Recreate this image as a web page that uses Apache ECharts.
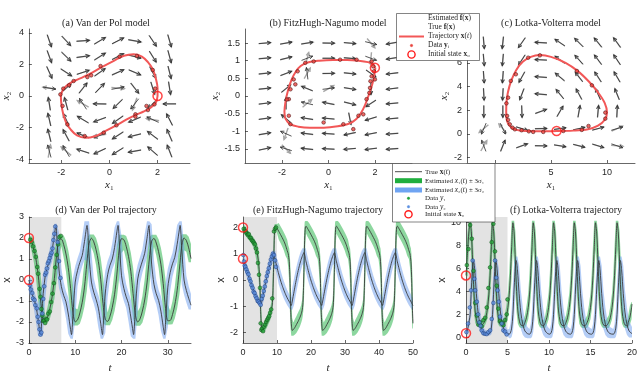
<!DOCTYPE html>
<html>
<head>
<meta charset="utf-8">
<script src="https://cdn.jsdelivr.net/npm/echarts@6/dist/echarts.min.js"></script>
<style>
html, body { margin: 0; padding: 0; background: #fff; }
#chart { width: 640px; height: 375px; }
</style>
</head>
<body>
<div id="chart"></div>
<script>
// ---------- phase portraits: quiver grids (angles in screen degrees) ----------
var vdpCols = [-2.5, -1.8, -1.1, -0.4, 0.35, 1.05, 1.8, 2.5];
var vdpRows = [3.5, 2.5, 1.5, 0.5, -0.5, -1.5, -2.5, -3.5];
var vdpAngles = [
  [-71, -47, 4, 31, 27, -10, -56, -74],
  [-70, -44, 8, 32, 27, -14, -58, -75],
  [-66, -33, 18, 35, 24, -23, -62, -76],
  [-9, 41, 52, 46, 11, -52, -73, -81],
  [99, 105, 123, 179, -136, -128, -136, 180],
  [103, 115, 149, -160, -145, -157, 155, 117],
  [104, 118, 158, -157, -147, -166, 143, 113],
  [105, 120, 162, -155, -148, -170, 139, 111]
];
var vdpEst = [[0, 3, 172], [4, 3, -5], [2, 4, 150], [0, 7, 80], [1, 7, 140], [5, 4, -110], [6, 5, 170], [3, 6, -170]];

var fhnCols = [-2.75, -1.83, -0.92, 0, 0.92, 1.83, 2.75];
var fhnRows = [1.5, 1.07, 0.64, 0.21, -0.21, -0.64, -1.07, -1.5];
var fhnAngles = [
  [5, 10, 9, -1, -5, -14, -170],
  [5, 14, 21, 0, -5, -20, -171],
  [6, 21, 97, 1, -6, -35, -173],
  [6, 39, 158, 7, -9, -90, -173],
  [7, 90, 167, 169, -14, -147, -175],
  [8, 140, 171, 175, -79, -163, -175],
  [10, 156, 173, 176, -168, -169, -176],
  [12, 163, 174, 177, -175, -173, -176]
];
var fhnEst = [[5, 0, -50], [2, 1, 75], [5, 1, -95], [3, 3, 30], [2, 4, 40], [1, 6, -110], [1, 7, -45], [2, 2, 60]];

var lvCols = [-1.0, 0.7, 2.4, 4.1, 5.8, 7.5, 9.2, 10.9];
var lvRows = [7.7, 6.25, 4.8, 3.35, 1.9, 0.45, -1.0];
var lvAngles = [
  [-85, -96, -125, 177, 146, 135, 129, 126],
  [-85, -95, -123, 177, 144, 132, 127, 124],
  [-86, -94, -119, 176, 140, 128, 123, 120],
  [-87, -93, -111, 175, 129, 118, 114, 112],
  [-90, -90, -88, 20, 60, 80, 85, 87],
  [-113, -65, -17, 1, 8, 12, 15, 16],
  [111, 68, 20, -1, -9, -14, -17, -19]
];
var lvEst = [[0, 5, -140], [1, 5, 130], [0, 6, 60], [7, 5, 25], [7, 6, -5]];

// trajectories and observations in the phase plane
var vdpLoop = [[2.0,0],[1.95,-0.35],[1.85,-0.55],[1.65,-0.8],[1.4,-1.0],[1.1,-1.2],[0.7,-1.5],[0.3,-1.85],[-0.2,-2.25],[-0.6,-2.55],[-1.0,-2.65],[-1.35,-2.5],[-1.6,-2.15],[-1.8,-1.7],[-1.93,-1.1],[-2.0,-0.5],[-2.02,0],[-1.95,0.35],[-1.85,0.55],[-1.65,0.8],[-1.4,1.0],[-1.1,1.2],[-0.7,1.5],[-0.3,1.85],[0.2,2.25],[0.6,2.55],[1.0,2.65],[1.35,2.5],[1.6,2.15],[1.8,1.7],[1.93,1.1],[2.0,0.5],[2.0,0]];
var vdpDots = [[1.9,0.47],[1.87,-0.53],[1.54,-0.63],[1.6,-0.89],[1.08,-1.16],[1.08,-1.31],[0.29,-1.86],[-0.24,-2.33],[-1.03,-2.54],[-1.75,-1.8],[-1.95,-0.63],[-2.04,0.1],[-1.92,0.47],[-1.68,0.68],[-1.49,0.95],[-0.92,1.2],[-0.76,1.31],[-0.37,1.9],[0.42,2.5],[1.14,2.54],[1.8,1.65]];
var fhnLoop = [[2.02,0.8],[1.95,0.5],[1.85,0.25],[1.72,0.0],[1.58,-0.25],[1.4,-0.48],[1.2,-0.65],[0.9,-0.78],[0.4,-0.86],[-0.2,-0.9],[-0.8,-0.9],[-1.3,-0.87],[-1.65,-0.8],[-1.85,-0.65],[-1.9,-0.45],[-1.85,-0.15],[-1.75,0.15],[-1.6,0.45],[-1.4,0.7],[-1.2,0.85],[-0.9,0.95],[-0.4,1.0],[0.2,1.02],[0.8,1.02],[1.3,1.0],[1.7,0.96],[1.92,0.9],[2.02,0.8]];
var fhnDots = [[-1.0,0.94],[-0.64,0.98],[0.5,1.03],[1.21,1.03],[1.86,0.98],[1.93,0.84],[1.96,0.7],[1.86,0.56],[1.81,0.42],[2.0,0.47],[1.79,0.23],[1.76,0.09],[1.64,-0.09],[1.5,-0.52],[1.29,-0.56],[1.07,-0.94],[0.64,-0.8],[-0.21,-0.75],[-1.64,-0.8],[-1.71,-0.56],[-1.71,-0.09],[-1.79,-0.1],[-1.64,0.19],[-1.5,0.47],[-1.43,0.33],[-1.33,0.7]];
var lvLoop = [[5.5,0.25],[7.0,0.28],[8.3,0.4],[9.2,0.7],[9.8,1.2],[10.0,1.8],[9.8,2.6],[9.2,3.5],[8.4,4.4],[7.4,5.3],[6.3,6.0],[5.0,6.5],[4.0,6.65],[3.2,6.5],[2.5,6.1],[1.9,5.4],[1.45,4.5],[1.15,3.5],[1.02,2.6],[1.0,1.8],[1.05,1.2],[1.25,0.75],[1.6,0.45],[2.2,0.3],[3.0,0.25],[4.2,0.22],[5.5,0.25]];
var lvDots = [[2.96,6.43],[4.01,6.63],[7.31,5.31],[8.65,4.1],[9.85,1.8],[9.85,1.29],[8.35,0.67],[7.75,0.34],[6.1,0.25],[4.31,0.17],[3.41,0.17],[3.02,0.22],[2.37,0.31],[1.77,0.39],[1.56,0.53],[1.32,0.81],[1.17,1.18],[1.08,1.52],[1.02,2.58],[1.17,3.06],[1.41,4.47],[1.86,5.03]];
var vdpX0 = [2.0, 0], fhnX0 = [2.0, 0.8], lvX0 = [5.5, 0.25];

// ---------- trajectories over time: [t, value] ----------
var vdpX1 = [[0,2.0],[0.5,1.88],[1,1.53],[1.5,1.02],[2,0.25],[2.5,-0.89],[3,-1.82],[3.5,-1.98],[4,-1.79],[4.5,-1.39],[5,-0.82],[5.5,0.07],[6,1.23],[6.5,1.91],[7,1.95],[7.5,1.69],[8,1.24],[8.5,0.59],[9,-0.4],[9.5,-1.53],[10,-1.99],[10.5,-1.9],[11,-1.57],[11.5,-1.08],[12,-0.34],[12.5,0.77],[13,1.75],[13.5,1.99],[14,1.82],[14.5,1.44],[15,0.88],[15.5,0.04],[16,-1.12],[16.5,-1.88],[17,-1.97],[17.5,-1.73],[18,-1.3],[18.5,-0.68],[19,0.28],[19.5,1.46],[20,1.97],[20.5,1.92],[21,1.61],[21.5,1.13],[22,0.42],[22.5,-0.65],[23,-1.68],[23.5,-2.0],[24,-1.85],[24.5,-1.48],[25,-0.95],[25.5,-0.14],[26,1.0],[26.5,1.85],[27,1.98],[27.5,1.76],[28,1.35],[28.5,0.75],[29,-0.17],[29.5,-1.35],[30,-1.94],[30.5,-1.93],[31,-1.65],[31.5,-1.19],[32,-0.51],[32.5,0.52],[33,1.6],[33.5,2.0],[34,1.88],[34.5,1.53],[35,1.02]];
var vdpX2 = [[0,0],[0.5,-0.5],[1,-0.87],[1.5,-1.2],[2,-1.9],[2.5,-2.6],[3,-0.9],[3.5,0.15],[4,0.62],[4.5,0.95],[5,1.41],[5.5,2.14],[5.85,2.6],[6,2.18],[6.5,0.48],[7,-0.3],[7.5,-0.73],[8,-1.04],[8.5,-1.62],[9,-2.36],[9.2,-2.6],[9.5,-1.7],[10,-0.1],[10.5,0.45],[11,0.84],[11.5,1.16],[12,1.83],[12.55,2.6],[13,1.1],[13.5,-0.1],[14,-0.58],[14.5,-0.92],[15,-1.34],[15.5,-2.06],[15.9,-2.6],[16,-2.32],[16.5,-0.62],[17,0.25],[17.5,0.7],[18,1.0],[18.5,1.55],[19,2.3],[19.25,2.6],[19.5,1.9],[20,0.2],[20.5,-0.4],[21,-0.8],[21.5,-1.12],[22,-1.76],[22.5,-2.48],[22.6,-2.6],[23,-1.3],[23.5,0.05],[24,0.54],[24.5,0.9],[25,1.27],[25.5,1.98],[25.95,2.6],[26,2.46],[26.5,0.76],[27,-0.2],[27.5,-0.66],[28,-0.97],[28.5,-1.48],[29,-2.22],[29.3,-2.6],[29.5,-2.04],[30,-0.34],[30.5,0.35],[31,0.77],[31.5,1.08],[32,1.69],[32.5,2.42],[32.65,2.6],[33,1.5],[33.5,0],[34,-0.5],[34.5,-0.87],[35,-1.2]];
var vdpObs1 = [[0.3,1.92],[0.6,1.8],[0.9,1.6],[1.2,1.38],[1.5,1.1],[1.8,0.62],[2.0,0.3],[2.3,-0.42],[2.5,-0.8],[2.7,-1.38],[2.9,-1.7],[3.1,-1.95],[3.3,-1.92],[3.5,-2.05],[3.7,-1.85],[3.9,-1.88],[4.2,-1.6],[4.5,-1.5],[4.8,-1.05],[5.1,-0.65],[5.4,-0.15],[5.7,0.6],[6.0,1.2],[6.3,1.7],[6.6,2.05],[6.9,2.1]];
var vdpObs2 = [[0.2,-0.25],[0.4,-0.45],[0.7,-0.62],[0.9,-0.88],[1.2,-0.95],[1.4,-1.2],[1.7,-1.35],[1.9,-1.75],[2.1,-2.0],[2.3,-2.35],[2.5,-2.6],[2.7,-2.5],[2.9,-1.6],[3.1,-0.9],[3.3,-0.3],[3.5,0.25],[3.7,0.35],[3.9,0.55],[4.1,0.8],[4.3,0.9],[4.5,1.05],[4.7,1.2],[4.9,1.3],[5.1,1.5],[5.3,1.9],[5.5,2.2],[5.7,2.55],[6.2,1.8],[6.5,0.9],[6.8,0.1]];

var fhnX1 = [[0,2.0],[0.5,1.9],[1,1.8],[1.5,1.72],[2,1.64],[2.5,1.56],[3,1.46],[3.5,1.33],[4,1.15],[4.5,0.75],[4.8,0.3],[5.0,-0.3],[5.2,-1.2],[5.4,-1.75],[5.6,-1.92],[6.0,-1.86],[6.5,-1.74],[7,-1.6],[7.5,-1.45],[8,-1.28],[8.3,-1.12],[8.6,-0.95],
  [8.8,-0.5],[9.0,0.5],[9.2,1.6],[9.4,2.02],[9.6,2.05],[10.0,1.97],[10.5,1.86],[11.0,1.74],[11.5,1.62],[12.0,1.49],[12.5,1.33],[13.0,1.12],[13.3,1.0],[13.6,0.7],[13.8,0.1],[14.0,-1.0],[14.2,-1.65],[14.45,-1.92],[14.8,-1.89],[15.2,-1.82],[15.7,-1.7],[16.2,-1.58],[16.7,-1.44],[17.1,-1.3],[17.4,-1.15],[17.6,-0.95],
  [17.75,-0.5],[17.95,0.5],[18.15,1.6],[18.35,2.02],[18.55,2.05],[18.95,1.97],[19.45,1.86],[19.95,1.74],[20.45,1.62],[20.95,1.49],[21.45,1.33],[21.95,1.12],[22.25,1.0],[22.55,0.7],[22.75,0.1],[22.95,-1.0],[23.15,-1.65],[23.4,-1.92],[23.75,-1.89],[24.15,-1.82],[24.65,-1.7],[25.15,-1.58],[25.65,-1.44],[26.05,-1.3],[26.35,-1.15],[26.55,-0.95],
  [26.7,-0.5],[26.9,0.5],[27.1,1.6],[27.3,2.02],[27.5,2.05],[27.9,1.97],[28.4,1.86],[28.9,1.74],[29.4,1.62],[29.9,1.49],[30.4,1.33],[30.9,1.12],[31.2,1.0],[31.5,0.7],[31.7,0.1],[31.9,-1.0],[32.1,-1.65],[32.35,-1.92],[32.7,-1.89],[33.1,-1.82],[33.6,-1.7],[34.1,-1.58],[34.6,-1.44],[35.0,-1.3],[35.3,-1.15],[35.5,-0.95],
  [35.65,-0.5],[35.85,0.5],[36.05,1.6],[36.25,2.02],[36.45,2.05],[36.85,1.97],[37.35,1.86],[37.85,1.74],[38.35,1.62],[38.85,1.49],[39.35,1.33],[39.85,1.12],[40.15,1.0],[40.45,0.7],[40.65,0.1],[40.85,-1.0],[41.05,-1.65],[41.3,-1.92],[41.65,-1.89],[42.05,-1.82],[42.55,-1.7],[43.05,-1.58],[43.55,-1.44],[43.95,-1.3],[44.25,-1.15],[44.45,-0.95],
  [44.6,-0.5],[44.8,0.5],[45.0,1.6],[45.2,2.02],[45.4,2.05],[45.8,1.97],[46.3,1.86],[46.8,1.74],[47.3,1.62],[47.8,1.49],[48.3,1.33],[48.8,1.12],[49.1,1.0],[49.4,0.7],[49.6,0.1],[49.8,-1.0],[50.0,-1.65]];
var fhnX2 = [[0,0.81],[0.5,0.6],[1,0.4],[1.5,0.2],[2,0.02],[2.5,-0.17],[3,-0.35],[3.5,-0.52],[4,-0.67],[4.5,-0.8],[5,-0.9],[5.3,-0.93],[5.6,-0.78],[6,-0.5],[6.5,-0.18],[7,0.12],[7.5,0.4],[8,0.65],[8.5,0.87],[9.0,1.05],
  [9.5,0.75],[10,0.48],[10.5,0.23],[11,0.0],[11.5,-0.2],[12,-0.38],[12.5,-0.54],[13,-0.68],[13.5,-0.8],[13.9,-0.9],[14.2,-0.97],[14.5,-0.8],[15.0,-0.45],[15.5,-0.1],[16.0,0.22],[16.5,0.5],[17.0,0.74],[17.5,0.93],[17.95,1.05],
  [18.45,0.75],[18.95,0.48],[19.45,0.23],[19.95,0.0],[20.45,-0.2],[20.95,-0.38],[21.45,-0.54],[21.95,-0.68],[22.45,-0.8],[22.85,-0.9],[23.15,-0.97],[23.45,-0.8],[23.95,-0.45],[24.45,-0.1],[24.95,0.22],[25.45,0.5],[25.95,0.74],[26.45,0.93],[26.9,1.05],
  [27.4,0.75],[27.9,0.48],[28.4,0.23],[28.9,0.0],[29.4,-0.2],[29.9,-0.38],[30.4,-0.54],[30.9,-0.68],[31.4,-0.8],[31.8,-0.9],[32.1,-0.97],[32.4,-0.8],[32.9,-0.45],[33.4,-0.1],[33.9,0.22],[34.4,0.5],[34.9,0.74],[35.4,0.93],[35.85,1.05],
  [36.35,0.75],[36.85,0.48],[37.35,0.23],[37.85,0.0],[38.35,-0.2],[38.85,-0.38],[39.35,-0.54],[39.85,-0.68],[40.35,-0.8],[40.75,-0.9],[41.05,-0.97],[41.35,-0.8],[41.85,-0.45],[42.35,-0.1],[42.85,0.22],[43.35,0.5],[43.85,0.74],[44.35,0.93],[44.8,1.05],
  [45.3,0.75],[45.8,0.48],[46.3,0.23],[46.8,0.0],[47.3,-0.2],[47.8,-0.38],[48.3,-0.54],[48.8,-0.68],[49.3,-0.8],[49.7,-0.9],[50.0,-0.97]];
var fhnObs1 = [[0.2,1.95],[0.5,1.88],[0.8,1.85],[1.1,1.78],[1.4,1.72],[1.7,1.75],[2.0,1.62],[2.3,1.6],[2.6,1.52],[2.9,1.48],[3.2,1.42],[3.5,1.36],[3.8,1.2],[4.1,1.05],[4.4,0.65],[4.7,0.2],[5.0,-0.3],[5.2,-1.65],[5.4,-1.9],[5.6,-1.85],[5.9,-1.95],[6.2,-1.78],[6.5,-1.7],[6.8,-1.6],[7.1,-1.52],[7.4,-1.45],[7.7,-1.38],[8.0,-1.25],[8.3,-1.12],[8.6,-0.7],[9.1,1.85],[9.4,1.95],[9.7,2.0]];
var fhnObs2 = [[0.1,0.95],[0.3,0.7],[0.5,0.55],[0.7,0.5],[1.0,0.4],[1.3,0.3],[1.6,0.22],[1.9,0.05],[2.2,-0.05],[2.5,-0.2],[2.8,-0.3],[3.1,-0.45],[3.4,-0.5],[3.7,-0.62],[4.0,-0.7],[4.3,-0.8],[4.6,-0.82],[4.9,-0.88],[5.2,-0.95],[5.5,-0.72],[5.8,-0.6],[6.1,-0.42],[6.4,-0.25],[6.7,-0.05],[7.0,0.15],[7.3,0.3],[7.6,0.45],[7.9,0.62],[8.2,0.78],[8.5,0.9],[8.8,1.0],[9.1,0.95],[9.4,0.75],[9.7,0.5]];

var lvX1 = [[0,5.4],[0.2,7.6],[0.35,9.2],
  [0.5,10],[0.65,9.1],[0.8,6.6],[0.95,4.0],[1.1,2.3],[1.3,1.35],[1.5,1.05],[1.75,1.0],[2.2,1.3],[2.4,1.75],[2.6,2.6],[2.75,3.7],[2.9,5.4],[3.05,7.8],
  [3.2,10],[3.35,9.1],[3.5,6.6],[3.65,4.0],[3.8,2.3],[4.0,1.35],[4.2,1.05],[4.45,1.0],[4.65,1.3],[4.85,1.75],[5.05,2.6],[5.2,3.7],[5.35,5.4],[5.5,7.8],
  [5.65,10],[5.8,9.1],[5.95,6.6],[6.1,4.0],[6.25,2.3],[6.45,1.35],[6.65,1.05],[6.9,1.0],[7.1,1.3],[7.3,1.75],[7.5,2.6],[7.65,3.7],[7.8,5.4],[7.95,7.8],
  [8.1,10],[8.25,9.1],[8.4,6.6],[8.55,4.0],[8.7,2.3],[8.9,1.35],[9.1,1.05],[9.35,1.0],[9.55,1.3],[9.75,1.75],[9.95,2.6],[10.1,3.7],[10.25,5.4],[10.4,7.8],
  [10.55,10],[10.7,9.1],[10.85,6.6],[11.0,4.0],[11.15,2.3],[11.35,1.35],[11.55,1.05],[11.8,1.0],[12.05,1.3],[12.25,1.75],[12.45,2.6],[12.6,3.7],[12.75,5.4],[12.9,7.8],
  [13.05,10],[13.2,9.1],[13.35,6.6],[13.5,4.0],[13.65,2.3],[13.85,1.35],[14.05,1.05],[14.3,1.0],[14.6,1.3],[14.8,1.75],[15.0,2.6],[15.15,3.7],[15.3,5.4],[15.45,7.8],
  [15.6,10],[15.75,9.1],[15.9,6.6],[16.05,4.0],[16.2,2.3],[16.4,1.35],[16.6,1.05],[16.85,1.0],[17.2,1.3],[17.4,1.75],[17.6,2.6],[17.75,3.7],[17.9,5.4],[18.05,7.8],
  [18.2,10],[18.35,9.1],[18.5,6.6],[18.65,4.0],[18.8,2.3],[19.0,1.35],[19.2,1.05],[19.45,1.0],[19.55,1.3],[19.75,1.75],[19.95,2.6],[20.0,2.9]];
var lvX2 = [[0,0.35],[0.15,0.6],[0.3,1.05],[0.4,1.5],
  [0.5,2.0],[0.65,4.3],[0.8,6.2],[0.9,6.7],[1.05,5.9],[1.25,3.8],[1.45,2.2],[1.7,1.1],[1.95,0.55],[2.25,0.32],
  [2.75,0.27],[2.9,0.38],[3.05,0.8],[3.2,2.0],[3.35,4.3],[3.5,6.2],[3.6,6.7],[3.75,5.9],[3.95,3.8],[4.15,2.2],[4.4,1.1],[4.65,0.55],[4.95,0.32],
  [5.2,0.27],[5.35,0.38],[5.5,0.8],[5.65,2.0],[5.8,4.3],[5.95,6.2],[6.05,6.7],[6.2,5.9],[6.4,3.8],[6.6,2.2],[6.85,1.1],[7.1,0.55],[7.4,0.32],
  [7.65,0.27],[7.8,0.38],[7.95,0.8],[8.1,2.0],[8.25,4.3],[8.4,6.2],[8.5,6.7],[8.65,5.9],[8.85,3.8],[9.05,2.2],[9.3,1.1],[9.55,0.55],[9.85,0.32],
  [10.1,0.27],[10.25,0.38],[10.4,0.8],[10.55,2.0],[10.7,4.3],[10.85,6.2],[10.95,6.7],[11.1,5.9],[11.3,3.8],[11.5,2.2],[11.75,1.1],[12.0,0.55],[12.3,0.32],
  [12.6,0.27],[12.75,0.38],[12.9,0.8],[13.05,2.0],[13.2,4.3],[13.35,6.2],[13.45,6.7],[13.6,5.9],[13.8,3.8],[14.0,2.2],[14.25,1.1],[14.5,0.55],[14.8,0.32],
  [15.15,0.27],[15.3,0.38],[15.45,0.8],[15.6,2.0],[15.75,4.3],[15.9,6.2],[16.0,6.7],[16.15,5.9],[16.35,3.8],[16.55,2.2],[16.8,1.1],[17.05,0.55],[17.35,0.32],
  [17.75,0.27],[17.9,0.38],[18.05,0.8],[18.2,2.0],[18.35,4.3],[18.5,6.2],[18.6,6.7],[18.75,5.9],[18.95,3.8],[19.15,2.2],[19.4,1.1],[19.65,0.55],[20.0,0.32]];
var lvObs1 = [[0.1,6.3],[0.3,7.7],[0.5,9.8],[0.7,8.6],[0.9,5.8],[1.1,3.0],[1.3,1.9],[1.5,1.1],[1.7,1.3],[1.9,0.95],[2.1,1.5],[2.3,1.7],[2.5,2.6],[2.7,4.3],[2.9,6.1],[3.1,8.3],[3.3,9.9],[3.5,7.5],[3.7,4.5],[3.9,2.5],[4.1,1.4],[4.3,1.3],[4.5,1.05],[4.7,1.5],[4.9,2.0],[5.0,3.3]];
var lvObs2 = [[0.05,0.45],[0.25,1.2],[0.45,2.6],[0.6,4.1],[0.8,6.7],[1.0,5.1],[1.1,4.1],[1.3,3.1],[1.45,2.0],[1.6,1.3],[1.75,1.0],[1.9,0.6],[2.1,0.35],[2.3,0.3],[2.5,0.28],[2.7,0.45],[2.9,0.6],[3.1,1.6],[3.3,3.0],[3.5,6.7],[3.65,5.2],[3.8,4.1],[3.95,3.1],[4.1,1.8],[4.3,1.2],[4.5,0.6],[4.7,0.5],[4.9,0.25]];

// ---------- styling helpers ----------
var SERIF = 'Liberation Serif, DejaVu Serif, serif';
var SANS = 'Liberation Sans, DejaVu Sans, sans-serif';
var INK = '#262626';
var RED = '#f25757';
var GREEN_BAND = 'rgba(48,182,80,0.55)';
var BLUE_BAND = 'rgba(105,155,238,0.5)';

var grids = [
  { left: 22, top: 29, width: 168, height: 134 },
  { left: 245, top: 29, width: 167, height: 134 },
  { left: 467, top: 29, width: 168, height: 134 },
  { left: 22, top: 217, width: 169, height: 135 },
  { left: 243, top: 217, width: 170, height: 135 },
  { left: 466, top: 217, width: 168, height: 135 }
];

function axis(gi, min, max, ticks, labels, name, gap, isY) {
  return {
    type: 'value', gridIndex: gi, min: min, max: max,
    name: name, nameLocation: 'middle', nameGap: gap, nameRotate: isY ? 90 : 0,
    nameTextStyle: {
      color: INK, fontFamily: SERIF, fontSize: 11,
      rich: { i: { fontFamily: SERIF, fontStyle: 'italic', fontSize: 11, color: INK } }
    },
    axisLine: { show: true, onZero: false, lineStyle: { color: INK, width: 0.7 } },
    axisTick: { show: true, inside: true, length: 3, customValues: ticks, lineStyle: { color: INK, width: 0.7 } },
    axisLabel: { customValues: labels, color: INK, fontSize: 9, fontFamily: SANS, margin: 5 },
    splitLine: { show: false }
  };
}

var xAxes = [
  axis(0, -3.35, 3.35, [-2, 0, 2], [-2, 0, 2], '{i|x}₁', 17),
  axis(1, -3.6, 3.6, [-2, 0, 2], [-2, 0, 2], '{i|x}₁', 17),
  axis(2, -2.5, 12.5, [0, 5, 10], [5, 10], '{i|x}₁', 17),
  axis(3, 0, 35, [0, 10, 20, 30], [0, 10, 20, 30], '{i|t}', 20),
  axis(4, 0, 50, [0, 10, 20, 30, 40, 50], [0, 10, 20, 30, 40, 50], '{i|t}', 20),
  axis(5, 0, 20, [0, 5, 10, 15, 20], [0, 5, 10, 15, 20], '{i|t}', 20)
];
var yAxes = [
  axis(0, -4.25, 4.25, [-4, -2, 0, 2, 4], [-4, -2, 0, 2, 4], '{i|x}₂', 13, true),
  axis(1, -1.9, 1.9, [-1.5, -1, -0.5, 0, 0.5, 1, 1.5], [-1.5, -1, -0.5, 0, 0.5, 1, 1.5], '{i|x}₂', 20, true),
  axis(2, -2.45, 8.85, [-2, 0, 2, 4, 6, 8], [-2, 0, 2, 4, 6, 8], '{i|x}₂', 13, true),
  axis(3, -3, 3, [-3, -2, -1, 0, 1, 2, 3], [-3, -2, -1, 0, 1, 2, 3], 'x', 16, true),
  axis(4, -2.4, 2.4, [-2, -1, 0, 1, 2], [-2, -1, 0, 1, 2], 'x', 16, true),
  axis(5, -0.5, 10.5, [0, 2, 4, 6, 8, 10], [0, 2, 4, 6, 8, 10], 'x', 16, true)
];
yAxes[3].nameTextStyle.fontFamily = SANS;
yAxes[4].nameTextStyle.fontFamily = SANS;
yAxes[5].nameTextStyle.fontFamily = SANS;

// quiver items: [x, y, trueAngle, estimatedAngle]
function quiverItems(cols, rows, angles, est) {
  var out = [];
  rows.forEach(function (y, r) {
    cols.forEach(function (x, c) { out.push([x, y, angles[r][c], angles[r][c]]); });
  });
  est.forEach(function (e) { out[e[1] * cols.length + e[0]][3] = e[2]; });
  return out;
}

function arrowRender(len, dim, color, width) {
  return function (params, api) {
    var c = api.coord([api.value(0), api.value(1)]);
    var a = api.value(dim) * Math.PI / 180;
    var ux = Math.cos(a), uy = -Math.sin(a);
    var tx = c[0] + ux * len / 2, ty = c[1] + uy * len / 2;
    var bx = c[0] - ux * len / 2, by = c[1] - uy * len / 2;
    var hl = len * 0.32, ha = 0.45;
    function side(s) {
      var ca = Math.cos(s * ha), sa = Math.sin(s * ha);
      return [tx - hl * (ux * ca - uy * sa), ty - hl * (ux * sa + uy * ca)];
    }
    var st = { stroke: color, lineWidth: width, fill: null };
    return {
      type: 'group', children: [
        { type: 'polyline', shape: { points: [[bx, by], [tx, ty]] }, style: st },
        { type: 'polyline', shape: { points: [side(1), [tx, ty], side(-1)] }, style: st }
      ]
    };
  };
}

function quiver(gi, items, len) {
  return [
    { type: 'custom', xAxisIndex: gi, yAxisIndex: gi, data: items, silent: true, z: 1, renderItem: arrowRender(len, 3, '#a6a6a6', 1.4) },
    { type: 'custom', xAxisIndex: gi, yAxisIndex: gi, data: items, silent: true, z: 2, renderItem: arrowRender(len, 2, '#2a2a2a', 0.8) }
  ];
}

function phaseSeries(gi, loop, dots, x0) {
  return [
    { type: 'line', xAxisIndex: gi, yAxisIndex: gi, data: loop, smooth: 0.35, showSymbol: false, silent: true, z: 3,
      lineStyle: { color: RED, width: 2 } },
    { type: 'scatter', xAxisIndex: gi, yAxisIndex: gi, data: dots, symbolSize: 3.6, silent: true, z: 4,
      itemStyle: { color: '#e8443f', borderColor: '#4a1010', borderWidth: 0.7 } },
    { type: 'scatter', xAxisIndex: gi, yAxisIndex: gi, data: [x0], symbolSize: 9, silent: true, z: 5, clip: false,
      itemStyle: { color: 'rgba(255,255,255,0)', borderColor: '#ff1a1a', borderWidth: 1.5 } }
  ];
}

// band = trajectory envelope with uncertainty width (narrow inside the training window)
function bandSeries(gi, pts, tTrain, wIn, wOut, color) {
  var up = [], lo = [], n = pts.length;
  for (var i = 0; i < n; i++) {
    var a = pts[Math.max(i - 1, 0)][1], b = pts[i][1], c = pts[Math.min(i + 1, n - 1)][1];
    var w = pts[i][0] <= tTrain ? wIn : wOut;
    up.push([pts[i][0], Math.max(a, b, c) + w]);
    lo.push([pts[i][0], Math.min(a, b, c) - w]);
  }
  return {
    type: 'custom', xAxisIndex: gi, yAxisIndex: gi, data: [[0, 0]], silent: true, z: 1,
    renderItem: function (params, api) {
      var p = up.map(function (q) { return api.coord(q); })
        .concat(lo.slice().reverse().map(function (q) { return api.coord(q); }));
      return { type: 'polygon', shape: { points: p }, style: { fill: color, stroke: null } };
    }
  };
}

function shadeSeries(gi, tEnd, yMin, yMax) {
  return {
    type: 'custom', xAxisIndex: gi, yAxisIndex: gi, data: [[0, 0]], silent: true, z: 0,
    renderItem: function (params, api) {
      var p0 = api.coord([0, yMax]), p1 = api.coord([tEnd, yMin]);
      return { type: 'rect', shape: { x: p0[0], y: p0[1], width: p1[0] - p0[0], height: p1[1] - p0[1] },
        style: { fill: '#e3e3e3' } };
    }
  };
}

function timeSeries(gi, s1, s2, o1, o2, tTrain, w1, w2, yMin, yMax, smooth) {
  return [
    shadeSeries(gi, tTrain, yMin, yMax),
    bandSeries(gi, s1, tTrain, w1[0], w1[1], GREEN_BAND),
    bandSeries(gi, s2, tTrain, w2[0], w2[1], BLUE_BAND),
    { type: 'line', xAxisIndex: gi, yAxisIndex: gi, data: s1, smooth: smooth, showSymbol: false, silent: true, z: 2,
      lineStyle: { color: '#3a3a3a', width: 0.9 } },
    { type: 'line', xAxisIndex: gi, yAxisIndex: gi, data: s2, smooth: smooth, showSymbol: false, silent: true, z: 2,
      lineStyle: { color: '#3a3a3a', width: 0.9 } },
    { type: 'scatter', xAxisIndex: gi, yAxisIndex: gi, data: o1, symbolSize: 3.8, silent: true, z: 3,
      itemStyle: { color: '#25a23a', borderColor: '#0f4a18', borderWidth: 0.6 } },
    { type: 'scatter', xAxisIndex: gi, yAxisIndex: gi, data: o2, symbolSize: 3.8, silent: true, z: 3,
      itemStyle: { color: '#5c8fe0', borderColor: '#1b3a75', borderWidth: 0.6 } },
    { type: 'scatter', xAxisIndex: gi, yAxisIndex: gi, data: [s1[0], s2[0]], symbolSize: 9, silent: true, z: 5, clip: false,
      itemStyle: { color: 'rgba(255,255,255,0)', borderColor: '#ff1a1a', borderWidth: 1.5 } }
  ];
}

var series = [].concat(
  quiver(0, quiverItems(vdpCols, vdpRows, vdpAngles, vdpEst), 13),
  phaseSeries(0, vdpLoop, vdpDots, vdpX0),
  quiver(1, quiverItems(fhnCols, fhnRows, fhnAngles, fhnEst), 12),
  phaseSeries(1, fhnLoop, fhnDots, fhnX0),
  quiver(2, quiverItems(lvCols, lvRows, lvAngles, lvEst), 12),
  phaseSeries(2, lvLoop, lvDots, lvX0),
  timeSeries(3, vdpX1, vdpX2, vdpObs1, vdpObs2, 7, [0.08, 0.18], [0.08, 0.2], -3, 3, 0.3),
  timeSeries(4, fhnX1, fhnX2, fhnObs1, fhnObs2, 10, [0.08, 0.2], [0.06, 0.16], -2.4, 2.4, 0.2),
  timeSeries(5, lvX1, lvX2, lvObs1, lvObs2, 5, [0.08, 0.18], [0.12, 0.35], -0.5, 10.5, 0.3)
);

// ---------- titles and legends ----------
function title(x, y, text) {
  return { type: 'text', x: x, y: y, z: 50, silent: true,
    style: { text: text, fontFamily: SERIF, fontSize: 10, fill: INK, align: 'center', verticalAlign: 'middle' } };
}
var legRich = {
  b: { fontFamily: SERIF, fontWeight: 'bold', fontSize: 7.5, fill: INK },
  i: { fontFamily: SERIF, fontStyle: 'italic', fontSize: 7.5, fill: INK }
};
function legText(x, y, text, size) {
  return { type: 'text', x: x, y: y, z: 101, silent: true,
    style: { text: text, fontFamily: SERIF, fontSize: size, fill: INK, verticalAlign: 'middle', rich: legRich } };
}
function legArrow(y, color, w) {
  return { type: 'group', z: 101, silent: true, children: [
    { type: 'polyline', shape: { points: [[399, y], [424, y]] }, style: { stroke: color, lineWidth: w, fill: null } },
    { type: 'polyline', shape: { points: [[420, y - 2], [424, y], [420, y + 2]] }, style: { stroke: color, lineWidth: w, fill: null } }
  ] };
}
function legCircle(cx, cy, r, fill, stroke, w) {
  return { type: 'circle', z: 101, silent: true, shape: { cx: cx, cy: cy, r: r },
    style: { fill: fill, stroke: stroke, lineWidth: w } };
}

var L1 = [18.5, 27.5, 36.5, 45.5, 54.5];
var L2 = [171.7, 180.7, 190, 198.3, 206.7, 214.3];
var graphics = [
  title(106, 23, '(a) Van der Pol model'),
  title(328, 23, '(b) FitzHugh-Nagumo model'),
  title(551, 23, '(c) Lotka-Volterra model'),
  title(106, 210, '(d) Van der Pol trajectory'),
  title(318, 210, '(e) FitzHugh-Nagumo trajectory'),
  title(566, 210, '(f) Lotka-Volterra trajectory'),
  { type: 'rect', z: 100, silent: true, shape: { x: 396.5, y: 13.5, width: 83, height: 47 },
    style: { fill: '#fff', stroke: '#333', lineWidth: 0.6 } },
  legArrow(L1[0], '#a6a6a6', 1.3),
  legArrow(L1[1], '#2a2a2a', 0.9),
  { type: 'line', z: 101, silent: true, shape: { x1: 399, y1: L1[2], x2: 424, y2: L1[2] }, style: { stroke: RED, lineWidth: 2 } },
  legCircle(411.5, L1[3], 1.2, '#e8443f', '#e8443f', 0.5),
  legCircle(411.5, L1[4], 3.6, 'rgba(0,0,0,0)', '#ff1a1a', 1.4),
  legText(428, L1[0], 'Estimated {b|f}({b|x})', 7.5),
  legText(428, L1[1], 'True {b|f}({b|x})', 7.5),
  legText(428, L1[2], 'Trajectory {b|x}({i|t})', 7.5),
  legText(428, L1[3], 'Data {b|y}ᵢ', 7.5),
  legText(428, L1[4], 'Initial state {b|x}₀', 7.5),
  { type: 'rect', z: 100, silent: true, shape: { x: 392.5, y: 163.5, width: 102.5, height: 58.5 },
    style: { fill: '#fff', stroke: '#333', lineWidth: 0.6 } },
  { type: 'line', z: 101, silent: true, shape: { x1: 395, y1: L2[0], x2: 422, y2: L2[0] }, style: { stroke: '#3a3a3a', lineWidth: 0.9 } },
  { type: 'rect', z: 101, silent: true, shape: { x: 395, y: L2[1] - 2.5, width: 27, height: 5 }, style: { fill: '#1fae3e' } },
  { type: 'rect', z: 101, silent: true, shape: { x: 395, y: L2[2] - 2.5, width: 27, height: 5 }, style: { fill: '#6fa4f2' } },
  legCircle(408.5, L2[3], 1.2, '#25a23a', '#25a23a', 0.5),
  legCircle(408.5, L2[4], 1.2, '#5c8fe0', '#5c8fe0', 0.5),
  legCircle(408.5, L2[5], 3.6, 'rgba(0,0,0,0)', '#ff1a1a', 1.4),
  legText(425, L2[0], 'True {b|x}({i|t})', 7),
  legText(425, L2[1], 'Estimated {i|x}₁({i|t}) ± 3σ₁', 7),
  legText(425, L2[2], 'Estimated {i|x}₂({i|t}) ± 3σ₂', 7),
  legText(425, L2[3], 'Data {i|y}₁', 7),
  legText(425, L2[4], 'Data {i|y}₂', 7),
  legText(425, L2[5], 'Initial state {b|x}₀', 7)
];

var chart = echarts.init(document.getElementById('chart'));
chart.setOption({
  animation: false,
  backgroundColor: '#ffffff',
  grid: grids,
  xAxis: xAxes,
  yAxis: yAxes,
  series: series,
  graphic: graphics
});
</script>
</body>
</html>
